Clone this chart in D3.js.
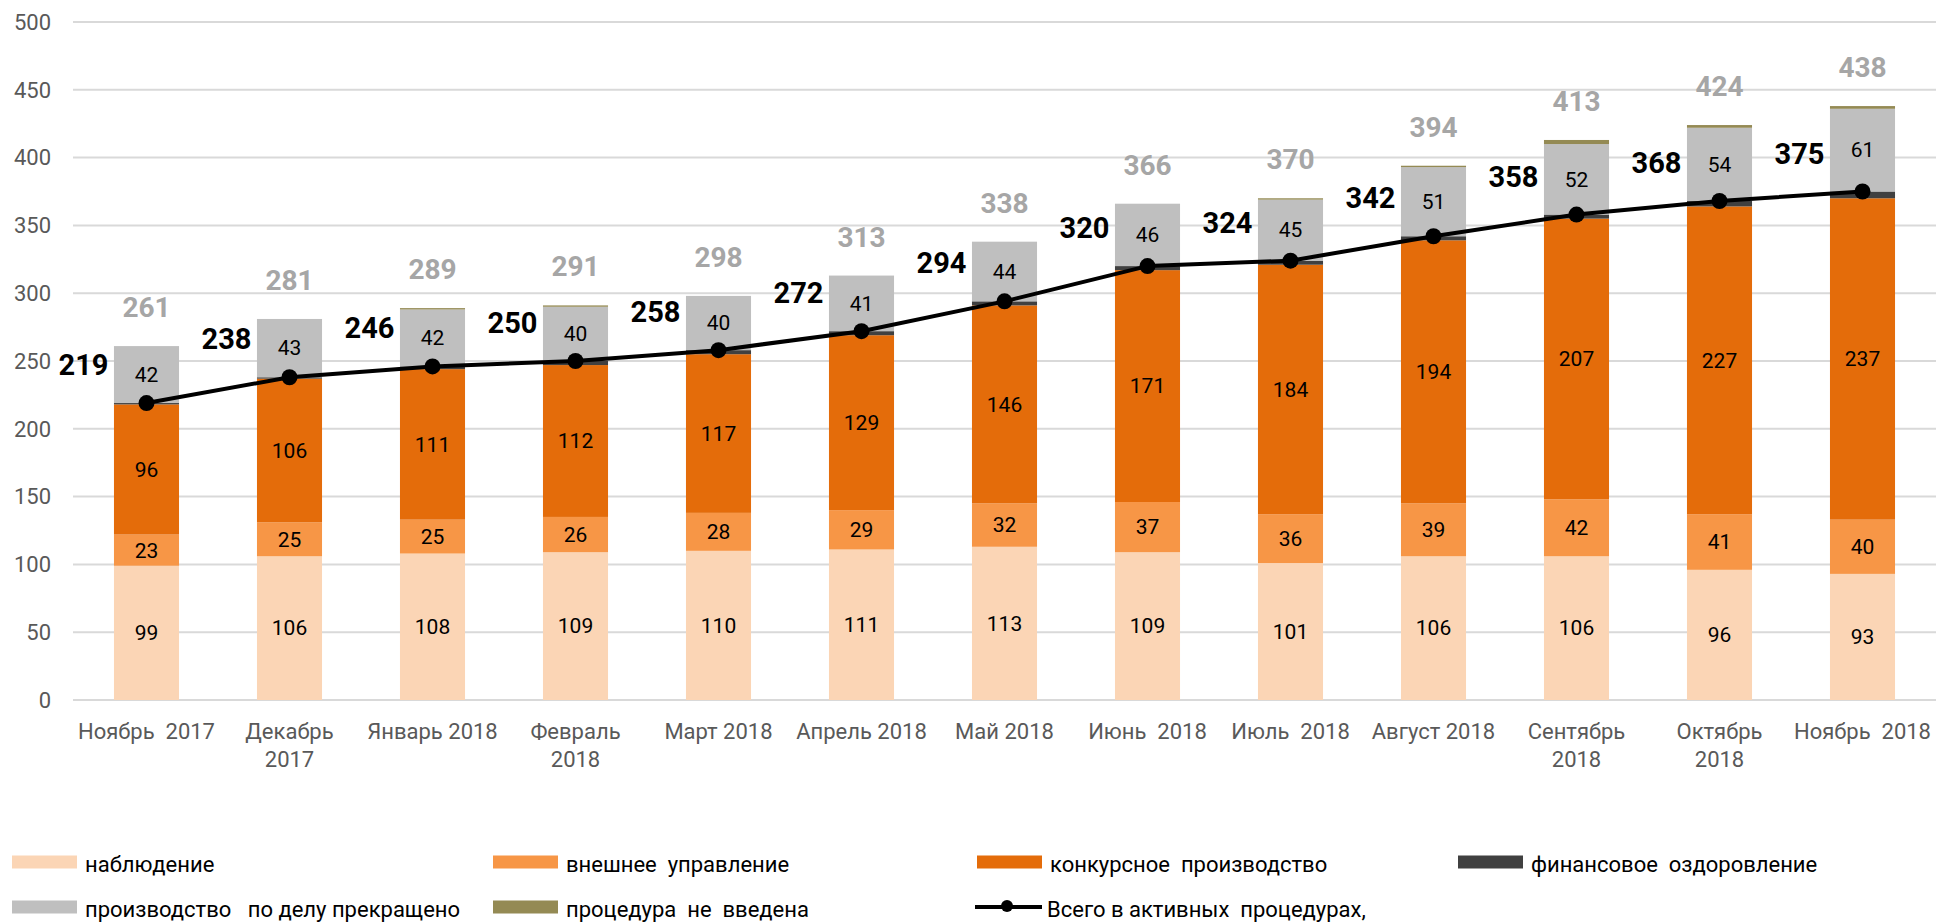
<!DOCTYPE html>
<meta charset="utf-8">
<style>
    body { margin: 0; background: #fff; }
    svg { font-family: Roboto, "Noto Sans", sans-serif; }
    .grid line { stroke: #d9d9d9; stroke-width: 2; }
    .tick-label { fill: #595959; font-size: 22px; }
    .seg-label { fill: #000; font-size: 21px; text-anchor: middle; }
    .total-label { fill: #a6a6a6; font-size: 28px; font-weight: bold; text-anchor: middle; }
    .active-label { fill: #000; font-size: 29px; font-weight: bold; text-anchor: end; }
    .legend text { font-size: 22px; fill: #000; }
    text { white-space: pre; }
</style>
<body>
<svg width="1936" height="923"></svg>
</body>
<script src="https://cdn.jsdelivr.net/npm/d3@7"></script>
<script>

    var months = ["Ноябрь  2017", "Декабрь\n2017", "Январь 2018", "Февраль\n2018", "Март 2018", "Апрель 2018",
        "Май 2018", "Июнь  2018", "Июль  2018", "Август 2018", "Сентябрь\n2018", "Октябрь\n2018", "Ноябрь  2018"];

    var observation = [99, 106, 108, 109, 110, 111, 113, 109, 101, 106, 106, 96, 93];
    var externalMgmt = [23, 25, 25, 26, 28, 29, 32, 37, 36, 39, 42, 41, 40];
    var bankruptcy = [96, 106, 111, 112, 117, 129, 146, 171, 184, 194, 207, 227, 237];
    var recovery = [1, 1, 2, 3, 3, 3, 3, 3, 3, 3, 3, 4, 5];
    var terminated = [42, 43, 42, 40, 40, 41, 44, 46, 45, 51, 52, 54, 61];
    var notIntroduced = [0, 0, 1, 1, 0, 0, 0, 0, 1, 1, 3, 2, 2];

    var activeTotal = [219, 238, 246, 250, 258, 272, 294, 320, 324, 342, 358, 368, 375];
    var grandTotal = [261, 281, 289, 291, 298, 313, 338, 366, 370, 394, 413, 424, 438];

    var yTicks = [0, 50, 100, 150, 200, 250, 300, 350, 400, 450, 500];

    var seriesNames = ["наблюдение", "внешнее  управление", "конкурсное  производство", "финансовое  оздоровление",
        "производство   по делу прекращено", "процедура  не  введена"];
    var seriesColors = ["#fbd5b5", "#f79646", "#e46c0a", "#404040", "#bfbfbf", "#948a54"];
    var seriesLabeled = [true, true, true, false, true, false];
    var lineName = "Всего в активных  процедурах,";

    var svg = d3.select("svg");

    var x = d3.scaleBand()
        .domain(months)
        .range([75, 1934])
        .paddingInner(0.545)
        .paddingOuter(0.2725);

    var y = d3.scaleLinear()
        .domain([0, 500])
        .range([700, 22]);

    // gridlines
    svg.append("g")
        .attr("class", "grid")
        .selectAll("line")
        .data(yTicks)
        .enter().append("line")
        .attr("x1", 73)
        .attr("x2", 1936)
        .attr("y1", function (d) { return y(d); })
        .attr("y2", function (d) { return y(d); });

    svg.append("g")
        .selectAll("text")
        .data(yTicks)
        .enter().append("text")
        .attr("class", "tick-label")
        .attr("x", 51)
        .attr("y", function (d) { return y(d); })
        .attr("dy", "0.35em")
        .attr("text-anchor", "end")
        .text(function (d) { return d; });

    // stacked data
    var rows = months.map(function (m, i) {
        return {
            month: m,
            s0: observation[i], s1: externalMgmt[i], s2: bankruptcy[i],
            s3: recovery[i], s4: terminated[i], s5: notIntroduced[i]
        };
    });
    var keys = ["s0", "s1", "s2", "s3", "s4", "s5"];
    var stacked = d3.stack().keys(keys)(rows);

    var layers = svg.append("g")
        .selectAll("g")
        .data(stacked)
        .enter().append("g")
        .attr("fill", function (d, i) { return seriesColors[i]; });

    layers.selectAll("rect")
        .data(function (d) { return d; })
        .enter().append("rect")
        .attr("x", function (d) { return x(d.data.month); })
        .attr("width", x.bandwidth())
        .attr("y", function (d) { return y(d[1]); })
        .attr("height", function (d) { return y(d[0]) - y(d[1]); });

    stacked.forEach(function (layer, li) {
        if (!seriesLabeled[li]) return;
        svg.append("g")
            .selectAll("text")
            .data(layer)
            .enter().append("text")
            .attr("class", "seg-label")
            .attr("x", function (d) { return x(d.data.month) + x.bandwidth() / 2; })
            .attr("y", function (d) { return y((d[0] + d[1]) / 2); })
            .attr("dy", "0.35em")
            .text(function (d) { return d[1] - d[0]; });
    });

    // grand total labels
    svg.append("g")
        .selectAll("text")
        .data(grandTotal)
        .enter().append("text")
        .attr("class", "total-label")
        .attr("x", function (d, i) { return x(months[i]) + x.bandwidth() / 2; })
        .attr("y", function (d) { return y(d) - 29; })
        .text(function (d) { return d; });

    // active line
    var line = d3.line()
        .x(function (d, i) { return x(months[i]) + x.bandwidth() / 2; })
        .y(function (d) { return y(d); });

    svg.append("path")
        .datum(activeTotal)
        .attr("fill", "none")
        .attr("stroke", "#000")
        .attr("stroke-width", 4)
        .attr("stroke-linejoin", "round")
        .attr("d", line);

    svg.append("g")
        .selectAll("circle")
        .data(activeTotal)
        .enter().append("circle")
        .attr("cx", function (d, i) { return x(months[i]) + x.bandwidth() / 2; })
        .attr("cy", function (d) { return y(d); })
        .attr("r", 8)
        .attr("fill", "#000");

    svg.append("g")
        .selectAll("text")
        .data(activeTotal)
        .enter().append("text")
        .attr("class", "active-label")
        .attr("x", function (d, i) { return x(months[i]) + x.bandwidth() / 2 - 38; })
        .attr("y", function (d) { return y(d) - 28; })
        .text(function (d) { return d; });

    // x labels
    var xl = svg.append("g")
        .selectAll("text")
        .data(months)
        .enter().append("text")
        .attr("class", "tick-label")
        .attr("text-anchor", "middle")
        .attr("x", function (d) { return x(d) + x.bandwidth() / 2; })
        .attr("y", 739);

    xl.selectAll("tspan")
        .data(function (d) { return d.split("\n"); })
        .enter().append("tspan")
        .attr("x", function () { return this.parentNode.getAttribute("x"); })
        .attr("dy", function (d, i) { return i === 0 ? 0 : 28; })
        .text(function (d) { return d; });

    // legend
    var legendX = [12, 493, 977, 1458];
    var legendY = [862, 907];
    var legend = svg.append("g").attr("class", "legend");

    seriesNames.forEach(function (name, i) {
        var lx = legendX[i % 4], ly = legendY[Math.floor(i / 4)];
        legend.append("rect")
            .attr("x", lx).attr("y", ly - 6.5)
            .attr("width", 65).attr("height", 13)
            .attr("fill", seriesColors[i]);
        legend.append("text")
            .attr("x", lx + 73).attr("y", ly + 10)
            .text(name);
    });

    var llx = legendX[6 % 4], lly = legendY[1];
    legend.append("line")
        .attr("x1", llx - 2).attr("x2", llx + 65)
        .attr("y1", lly).attr("y2", lly)
        .attr("stroke", "#000").attr("stroke-width", 4);
    legend.append("circle")
        .attr("cx", llx + 30).attr("cy", lly - 1)
        .attr("r", 6).attr("fill", "#000");
    legend.append("text")
        .attr("x", llx + 70).attr("y", lly + 10)
        .text(lineName);

</script>
